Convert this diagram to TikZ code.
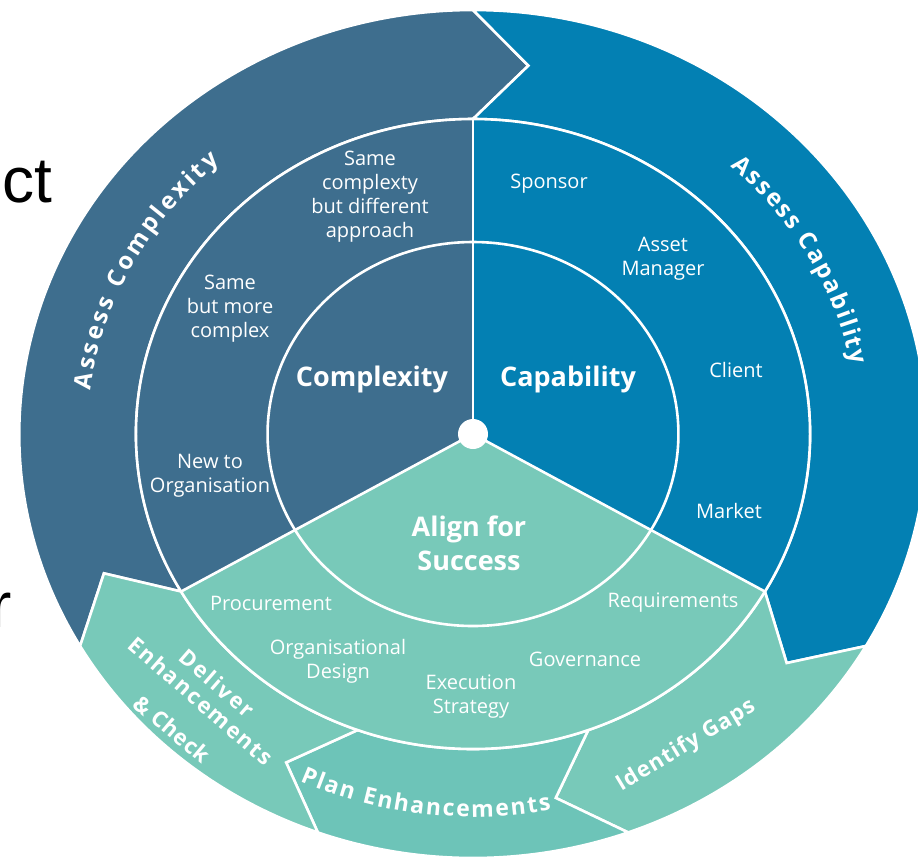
\documentclass[tikz,border=0pt]{standalone}
\usepackage{fontspec}
\setmainfont{Open Sans}
\newfontfamily\slidefont{Liberation Sans}
\usetikzlibrary{calc,decorations.text}
\definecolor{cplx}{HTML}{3E6E8E}
\definecolor{capa}{HTML}{0380B3}
\definecolor{algn}{HTML}{78C9B9}
\definecolor{plan}{HTML}{6DC4B8}
\newcommand\curvefont{\bfseries\fontsize{12}{14}\selectfont}
\newcommand\planfont{\bfseries\fontsize{11.5}{14}\selectfont}
\newcommand\outerseg[3]{%
  \path[fill=#3, seg] (#1:315) -- ({#1-8}:372) -- (#1:424)
    arc[start angle=#1, end angle=#2, radius=424]
    -- ({#2-8}:372) -- (#2:315)
    arc[start angle=#2, end angle=#1, radius=315] -- cycle;}
\tikzset{
  seg/.style={draw=white, line width=1.3pt, line join=miter},
  sep/.style={draw=white, line width=1.3pt},
  lbl/.style={text=white, align=center, font=\fontsize{10}{12}\selectfont, inner sep=0pt},
  big/.style={text=white, align=center, font=\bfseries\fontsize{13.5}{17}\selectfont, inner sep=0pt},
  straight/.style={text=white, inner sep=0pt,
    font=\bfseries\fontsize{11}{13}\selectfont\addfontfeature{LetterSpace=#1}},
  slide/.style={font=\slidefont\fontsize{32}{38}\selectfont, text=black, inner sep=0pt},
  curved/.style 2 args={decorate, decoration={text along path, text align=fit to path,
    text color=white, text={|#1|#2}}},
}
\begin{document}
\begin{tikzpicture}[x=0.5pt,y=-0.5pt]
\useasboundingbox (0,0) rectangle (918,859);
\clip (0,0) rectangle (918,859);
\coordinate (C) at (473,434);
\begin{scope}[shift={(C)}, xscale=1.07, yscale=-1]
  % outer ring arrows
  \outerseg{210}{90}{cplx}
  \outerseg{90}{-30}{capa}
  \outerseg{-30}{-70}{algn}
  \outerseg{-70}{-110}{plan}
  \outerseg{-110}{-150}{algn}
  % inner sectors
  \path[fill=cplx] (0,0) -- (90:315) arc[start angle=90, end angle=210, radius=315] -- cycle;
  \path[fill=capa] (0,0) -- (-30:315) arc[start angle=-30, end angle=90, radius=315] -- cycle;
  \path[fill=algn] (0,0) -- (210:315) arc[start angle=210, end angle=330, radius=315] -- cycle;
  % white circles and radial lines
  \draw[sep] (0:192) arc[start angle=0, end angle=360, radius=192];
  \draw[sep] (0:315) arc[start angle=0, end angle=360, radius=315];
  \draw[sep] (0,0) -- (90:315);
  \draw[sep] (0,0) -- (210:315);
  \draw[sep] (0,0) -- (-30:315);
\end{scope}
\node[circle, fill=white, minimum size=15pt, inner sep=0pt] (dot) at (C) {};

% slide fragments
\node[slide, anchor=base west] (ct) at (2,202) {ct};
\node[slide, anchor=base east] (rr) at (12,627) {r};

% inner labels
\node[big] (complexity) at (372,379) {Complexity};
\node[big] (capability) at (568,379) {Capability};
\node[big] (align) at (469,543) {Align for\\Success};

% ring labels
\node[lbl] (samecx) at (370,197) {Same\\complexty\\but different\\approach};
\node[lbl] (samemore) at (230,308.5) {Same\\but more\\complex};
\node[lbl] (neworg) at (210,476) {New to\\Organisation};
\node[lbl] (sponsor) at (549,184) {Sponsor};
\node[lbl] (asset) at (663,259) {Asset\\Manager};
\node[lbl] (client) at (736,370) {Client};
\node[lbl] (market) at (729,511) {Market};
\node[lbl] (procure) at (271,603) {Procurement};
\node[lbl] (require) at (673,603) {Requirements};
\node[lbl] (orgdes) at (338,661) {Organisational\\Design};
\node[lbl] (govern) at (585,659) {Governance};
\node[lbl] (exec) at (471,697) {Execution\\Strategy};

% outer ring texts
\path[curved={\curvefont}{Assess Complexity}] ($(C)+(-173:385.2 and 360)$)
  arc[start angle=-173, end angle=-131, x radius=385.2, y radius=360];
\path[curved={\curvefont}{Assess Capability}] ($(C)+(-48:385.2 and 360)$)
  arc[start angle=-48, end angle=-11, x radius=385.2, y radius=360];
\path[curved={\planfont}{Plan Enhancements}] ($(C)+(-245:409.8 and 383)$)
  arc[start angle=-245, end angle=-281, x radius=409.8, y radius=383];
\node[straight=10, rotate=-41] (deliver) at (217,683) {Deliver};
\node[straight=8, rotate=-41] (enh) at (201,701) {Enhancements};
\node[straight=2, rotate=-40] (check) at (172,729) {\& Check};
\node[straight=5, rotate=31] (gaps) at (686,746) {Identify Gaps};
\end{tikzpicture}
\end{document}
